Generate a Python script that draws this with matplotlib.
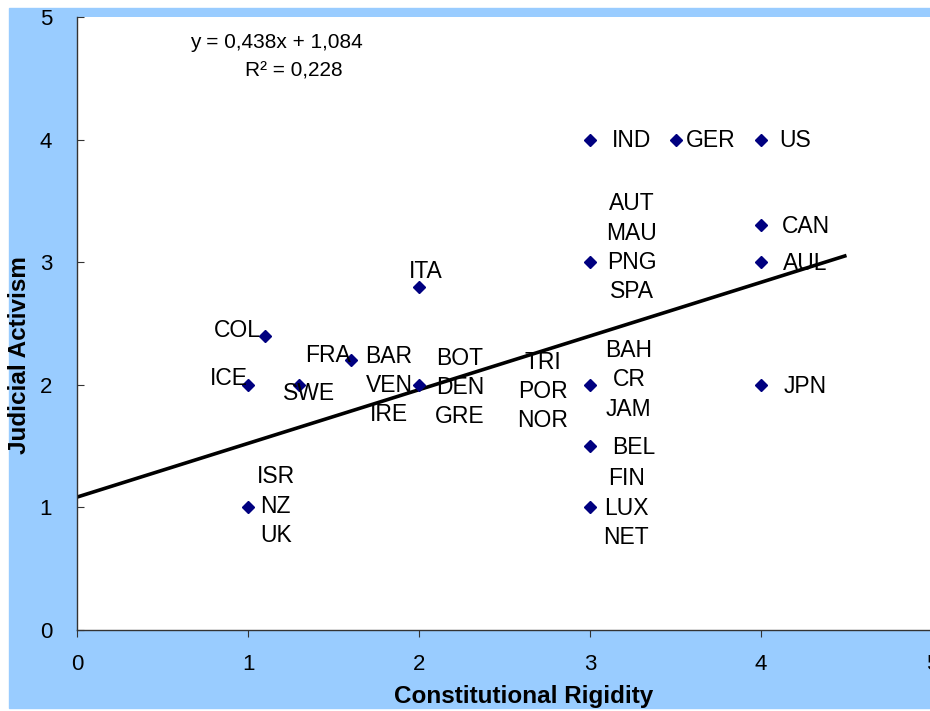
import matplotlib.pyplot as plt
import numpy as np

plt.rcParams['font.family'] = ['Liberation Sans', 'DejaVu Sans']

# data points (constitutional rigidity, judicial activism)
rigidity = [3, 3.5, 4, 4, 4, 3, 2, 1.1, 1.6, 1, 1.3, 2, 3, 3, 3, 4, 1]
activism = [4, 4, 4, 3.3, 3, 3, 2.8, 2.4, 2.2, 2, 2, 2, 2, 1.5, 1, 2, 1]

# country labels and the point they belong to
labels = ['IND', 'GER', 'US', 'CAN', 'AUL', 'JPN', 'BEL',
          'AUT\nMAU\nPNG\nSPA', 'ITA', 'COL', 'FRA', 'ICE', 'SWE',
          'BAR\nVEN\nIRE', 'BOT\nDEN\nGRE', 'TRI\nPOR\nNOR', 'BAH\nCR\nJAM',
          'FIN\nLUX\nNET', 'ISR\nNZ\nUK']
label_x = [3, 3.5, 4, 4, 4, 4, 3, 3, 2, 1.1, 1.6, 1, 1.3, 2, 2, 3, 3, 3, 1]
label_y = [4, 4, 4, 3.3, 3, 2, 1.5, 3, 2.8, 2.4, 2.2, 2, 2, 2, 2, 2, 2, 1, 1]

# placement of labels (offset in points, alignment)
offsets = [(16, -1), (7.5, -1), (13, -1), (15, -1), (16, -1), (16, -1), (16, -1),
           (30, 10.5), (5, 11), (-3, 3.5), (0, 3.5), (0, 4.5), (7, -6.5),
           (-21.6, -0.5), (29.5, -2), (-34, -5), (28, 3.5), (26, -0.5), (20, 1)]
aligns = ['left'] * 7 + ['center', 'center', 'right', 'right', 'right', 'center',
                         'center', 'center', 'center', 'center', 'center', 'center']

slope = 0.438
intercept = 1.084
r2 = 0.228
trend_x = [0, 4.5]

fig = plt.figure(figsize=(9.3, 7.11), dpi=100)
fig.patch.set_facecolor('white')
fig.patches.append(plt.Rectangle((9 / 930, 3 / 711), 1, 700 / 711,
                                 transform=fig.transFigure, color='#99CCFF', zorder=-10))

ax = fig.add_axes([77 / 930, 81 / 711, 855 / 930, 613 / 711])
ax.set_facecolor('white')
ax.set_xlim(0, 5)
ax.set_ylim(0, 5)
ax.set_xticks([0, 1, 2, 3, 4, 5])
ax.set_yticks([0, 1, 2, 3, 4, 5])

for s in ['top', 'right']:
    ax.spines[s].set_visible(False)
for s in ['left', 'bottom']:
    ax.spines[s].set_color('#333333')
    ax.spines[s].set_linewidth(1)

ax.tick_params(axis='y', direction='in', length=5, pad=18, labelsize=16, color='#333333')
ax.tick_params(axis='x', direction='out', length=5, pad=12, labelsize=16, color='#333333')

ty = [slope * v + intercept for v in trend_x]
ax.plot(trend_x, ty, color='black', lw=2.6, zorder=2, solid_capstyle='butt')

ax.plot(rigidity, activism, 'D', color='#000080', ms=6.5, zorder=3, clip_on=False)

for txt, lx, ly, off, ha in zip(labels, label_x, label_y, offsets, aligns):
    ax.annotate(txt, (lx, ly), xytext=off, textcoords='offset points',
                ha=ha, va='center', fontsize=16.5, linespacing=1.34,
                multialignment='center', zorder=4)

eq = 'y = %s' % f'{slope:.3f}'.replace('.', ',') + 'x + ' + f'{intercept:.3f}'.replace('.', ',')
ax.text(0.233, 0.958, eq, transform=ax.transAxes, ha='center', va='center', fontsize=15)
ax.text(0.253, 0.912, 'R² = ' + f'{r2:.3f}'.replace('.', ','), transform=ax.transAxes,
        ha='center', va='center', fontsize=15)

fig.text(524 / 930, 14 / 711, 'Constitutional Rigidity', ha='center', va='center',
         fontsize=17.5, fontweight='bold')
fig.text(19.5 / 930, 356 / 711, 'Judicial Activism', ha='center', va='center',
         fontsize=17.5, fontweight='bold', rotation=90)

fig.savefig('out.png', dpi=100)
